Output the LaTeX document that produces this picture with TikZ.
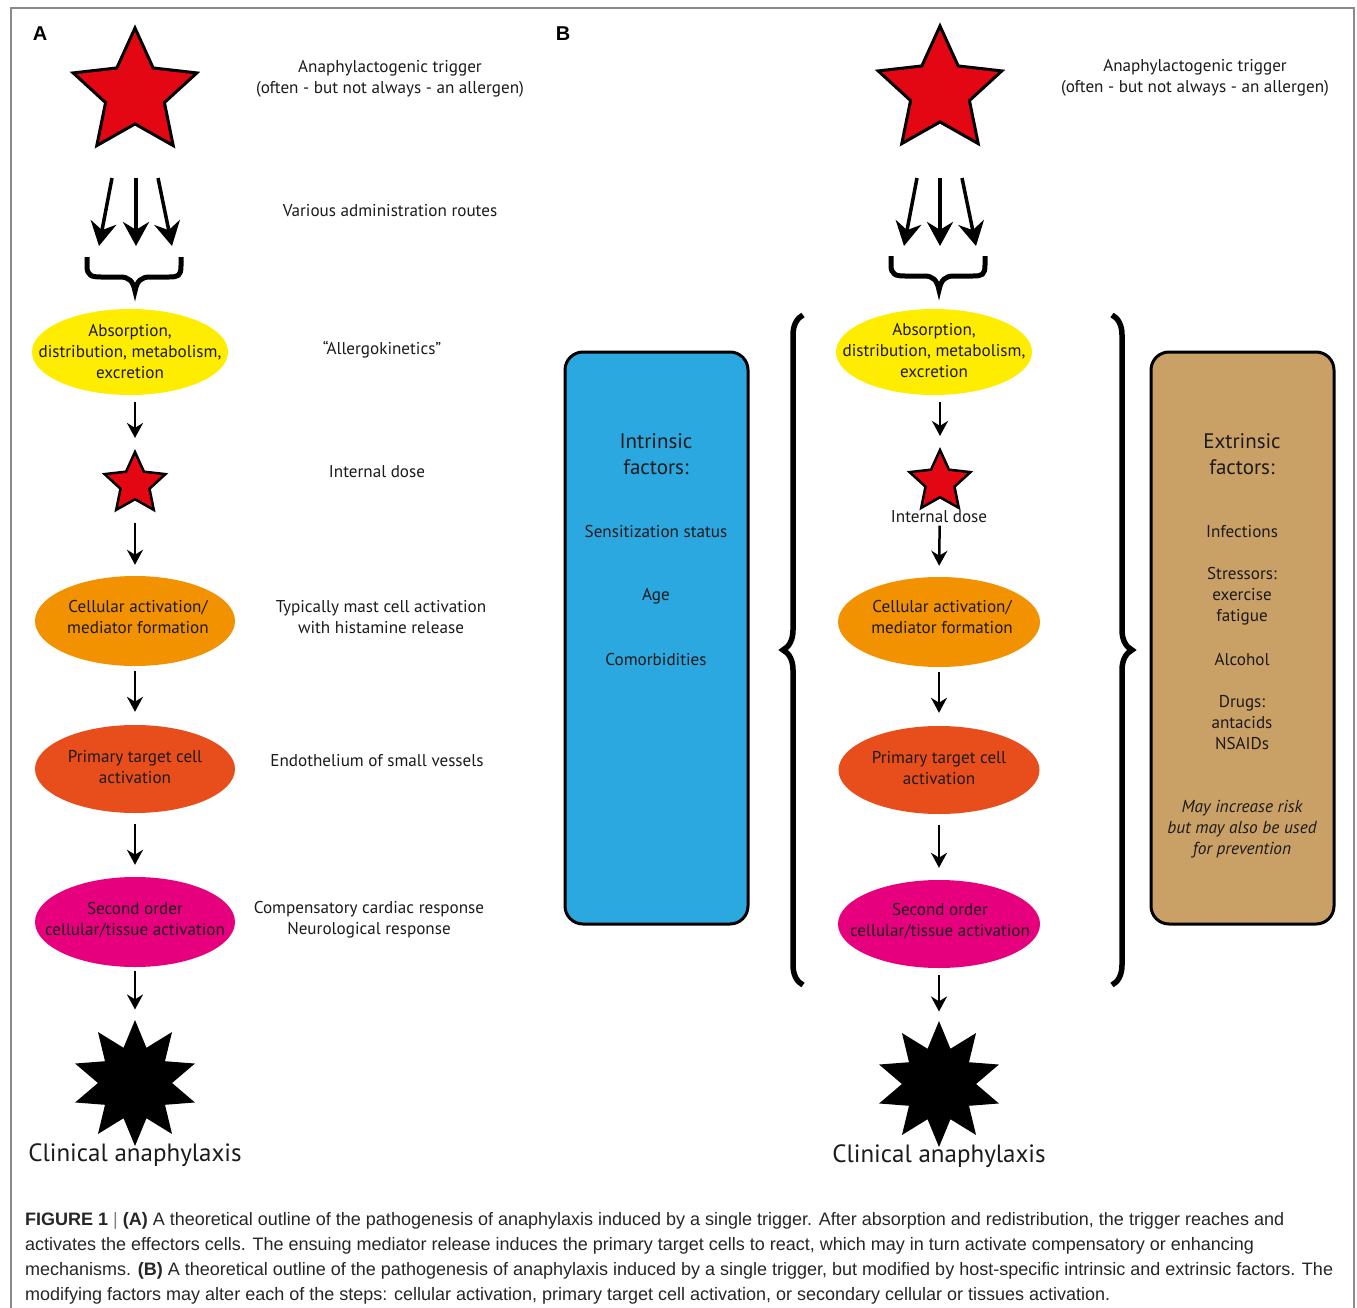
\documentclass[tikz,border=0pt]{standalone}
\usepackage{fontspec}
\setmainfont{PT Sans}
\newfontfamily\capfont{Liberation Sans}
\usetikzlibrary{shapes.geometric,arrows.meta,decorations.pathreplacing}
\definecolor{starred}{HTML}{E30613}
\definecolor{ylw}{HTML}{FFED00}
\definecolor{org}{HTML}{F39200}
\definecolor{redorg}{HTML}{E84E1B}
\definecolor{mag}{HTML}{E6007E}
\definecolor{bluebox}{HTML}{2CA8E0}
\definecolor{tanbox}{HTML}{C9A065}
\definecolor{ink}{HTML}{1D1A1B}
\definecolor{framegray}{HTML}{8A8A8A}
\begin{document}
\begin{tikzpicture}[x=1pt,y=-1pt,
  txt/.style={font=\fontsize{17.1}{21}\selectfont, text=ink, align=center, inner sep=0pt},
  ell/.style={ellipse, inner sep=0pt},
  bigstar/.style={star, star points=5, star point ratio=2.1, minimum size=130pt, inner sep=0pt, fill=starred, draw=black, line width=3pt},
  smallstar/.style={star, star points=5, star point ratio=2.1, minimum size=64pt, inner sep=0pt, fill=starred, draw=black, line width=2.5pt},
  burst/.style={star, star points=10, star point ratio=1.7, minimum size=126pt, inner sep=0pt, fill=black},
  arr/.style={line width=2.5pt, -{Stealth[length=15pt,width=16pt]}},
  bigarr/.style={line width=3.5pt, -{Stealth[length=24pt,width=26pt]}},
  hbrace/.style={line width=5pt, line join=miter, line cap=butt},
  vbrace/.style={line width=5.5pt, decorate, decoration={brace, amplitude=20pt}},
  factbox/.style={draw=black, line width=3pt, rounded corners=18pt, minimum width=183pt, minimum height=572pt, inner sep=0pt},
  clin/.style={font=\fontsize{25}{30}\selectfont, text=ink, inner sep=0pt},
  panel/.style={font=\capfont\bfseries\fontsize{20}{22}\selectfont, inner sep=0pt}
]
\useasboundingbox (0,0) rectangle (1357,1308);
\fill[white] (0,0) rectangle (1357,1308);
\draw[framegray, line width=1.3pt] (11,1320) -- (11,8) -- (1354,8) -- (1354,1320);

% ---------------- Panel A ----------------
\node[panel] (labA) at (40,34) {A};
\node[bigstar] (trigA) at (135,93) {};
\node[txt] (trigAtxt) at (390,79) {Anaphylactogenic trigger\\(often - but not always - an allergen)};
\coordinate (a1s) at (112,178); \coordinate (a1e) at (99,246);
\coordinate (a2s) at (136,178); \coordinate (a2e) at (136,246);
\coordinate (a3s) at (158,178); \coordinate (a3e) at (172,246);
\draw[bigarr] (a1s) -- (a1e);
\draw[bigarr] (a2s) -- (a2e);
\draw[bigarr] (a3s) -- (a3e);
\draw[hbrace] (87,257) -- (87,266) .. controls (87,276) and (92,277) .. (101,277) -- (120,277) .. controls (129,277) and (133,281) .. (135,291) .. controls (137,281) and (141,277) .. (150,277) -- (169,277) .. controls (178,277) and (181,276) .. (181,266) -- (181,257);
\node[txt] (routesA) at (390,211) {Various administration routes};
\node[ell, fill=ylw, minimum width=196pt, minimum height=86pt] (ylwA) at (130,352) {};
\node[txt] (ylwAt) at (130,352) {Absorption,\\distribution, metabolism,\\excretion};
\node[txt] (akA) at (382,350) {“Allergokinetics”};
\node[smallstar] (istarA) at (135,484) {};
\node[txt] (idA) at (377,472) {Internal dose};
\node[ell, fill=org, minimum width=200pt, minimum height=90pt] (orgA) at (135,621) {};
\node[txt] (orgAt) at (138,617) {Cellular activation/\\mediator formation};
\node[txt] (mastA) at (381,617) {Typically mast cell activation\\with histamine release};
\node[ell, fill=redorg, minimum width=200pt, minimum height=88pt] (redA) at (135,769) {};
\node[txt] (redAt) at (135,767) {Primary target cell\\activation};
\node[txt] (endoA) at (377,761) {Endothelium of small vessels};
\node[ell, fill=mag, minimum width=200pt, minimum height=90pt] (magA) at (135,922) {};
\node[txt] (magAt) at (135,920) {Second order\\cellular/tissue activation};
\node[txt] (compA) at (369,920) {Compensatory cardiac response\\Neurological response};
\node[burst] (burstA) at (135,1083) {};
\node[clin] (clinA) at (135,1155) {Clinical anaphylaxis};

\draw[arr, shorten <=7pt, shorten >=11pt] (ylwA.south -| istarA.north) -- (istarA.north);
\draw[arr, shorten <=22pt, shorten >=11pt] (istarA.south) -- (orgA.north);
\draw[arr, shorten <=5pt, shorten >=13pt] (orgA.south) -- (redA.north);
\draw[arr, shorten <=11pt, shorten >=12pt] (redA.south) -- (magA.north);
\draw[arr, shorten <=4pt, shorten >=10pt] (magA.south) -- (burstA.north);

% ---------------- Panel B ----------------
\node[panel] (labB) at (563,34) {B};
\node[bigstar] (trigB) at (940,91) {};
\node[txt] (trigBtxt) at (1195,78) {Anaphylactogenic trigger\\(often - but not always - an allergen)};
\coordinate (b1s) at (917,178); \coordinate (b1e) at (904,246);
\coordinate (b2s) at (940,178); \coordinate (b2e) at (940,246);
\coordinate (b3s) at (962,178); \coordinate (b3e) at (976,246);
\draw[bigarr] (b1s) -- (b1e);
\draw[bigarr] (b2s) -- (b2e);
\draw[bigarr] (b3s) -- (b3e);
\draw[hbrace] (891,256) -- (891,265) .. controls (891,275) and (896,276) .. (905,276) -- (924,276) .. controls (933,276) and (937,280) .. (939,290) .. controls (941,280) and (945,276) .. (954,276) -- (973,276) .. controls (982,276) and (985,275) .. (985,265) -- (985,256);
\node[ell, fill=ylw, minimum width=196pt, minimum height=86pt] (ylwB) at (934,352) {};
\node[txt] (ylwBt) at (934,351) {Absorption,\\distribution, metabolism,\\excretion};
\node[smallstar] (istarB) at (940,482) {};
\node[txt] (idB) at (939,517) {Internal dose};
\node[ell, fill=org, minimum width=202pt, minimum height=90pt] (orgB) at (939,622) {};
\node[txt] (orgBt) at (942,617) {Cellular activation/\\mediator formation};
\node[ell, fill=redorg, minimum width=201pt, minimum height=88pt] (redB) at (939,770) {};
\node[txt] (redBt) at (939,768) {Primary target cell\\activation};
\node[ell, fill=mag, minimum width=202pt, minimum height=88pt] (magB) at (939,924) {};
\node[txt] (magBt) at (940,921) {Second order\\cellular/tissue activation};
\node[burst] (burstB) at (939,1084) {};
\node[clin] (clinB) at (939,1156) {Clinical anaphylaxis};

\draw[arr, shorten <=7pt, shorten >=11pt] (ylwB.south -| istarB.north) -- (istarB.north);
\draw[arr, shorten <=27pt, shorten >=11pt] (istarB.south) -- (orgB.north);
\draw[arr, shorten <=5pt, shorten >=13pt] (orgB.south) -- (redB.north);
\draw[arr, shorten <=11pt, shorten >=12pt] (redB.south) -- (magB.north);
\draw[arr, shorten <=7pt, shorten >=9pt] (magB.south) -- (burstB.north);

% braces
\draw[vbrace] (803,985) -- (803,315);
\draw[vbrace] (1112,315) -- (1112,985);

% factor boxes
\node[factbox, fill=bluebox] (intr) at (656.5,638) {};
\node[txt, font=\fontsize{21}{26}\selectfont] (intrT) at (656,454) {Intrinsic\\factors:};
\node[txt] (intr1) at (656,532) {Sensitization status};
\node[txt] (intr2) at (656,596) {Age};
\node[txt] (intr3) at (656,660) {Comorbidities};

\node[factbox, fill=tanbox] (extr) at (1242.5,638) {};
\node[txt, font=\fontsize{21}{26}\selectfont] (extrT) at (1242,454) {Extrinsic\\factors:};
\node[txt] (extr1) at (1242,532) {Infections};
\node[txt] (extr2) at (1242,596) {Stressors:\\exercise\\fatigue};
\node[txt] (extr3) at (1242,660) {Alcohol};
\node[txt] (extr4) at (1242,723) {Drugs:\\antacids\\NSAIDs};
\node[txt, font=\itshape\fontsize{17.3}{21}\selectfont] (extr5) at (1242,829) {May increase risk\\but may also be used\\for prevention};

% caption
\begin{scope}[every node/.style={anchor=base west, inner sep=0pt, font=\capfont\fontsize{18}{20}\selectfont, text=black!85}]
\node (cap1) at (25,1225) {\textbf{FIGURE 1} {\color{gray}|} \textbf{(A)} A theoretical outline of the pathogenesis of anaphylaxis induced by a single trigger. After absorption and redistribution, the trigger reaches and};
\node (cap2) at (25,1250) {activates the effectors cells. The ensuing mediator release induces the primary target cells to react, which may in turn activate compensatory or enhancing};
\node (cap3) at (25,1275) {mechanisms. \textbf{(B)} A theoretical outline of the pathogenesis of anaphylaxis induced by a single trigger, but modified by host-specific intrinsic and extrinsic factors. The};
\node (cap4) at (25,1300) {modifying factors may alter each of the steps: cellular activation, primary target cell activation, or secondary cellular or tissues activation.};
\end{scope}
\end{tikzpicture}
\end{document}
